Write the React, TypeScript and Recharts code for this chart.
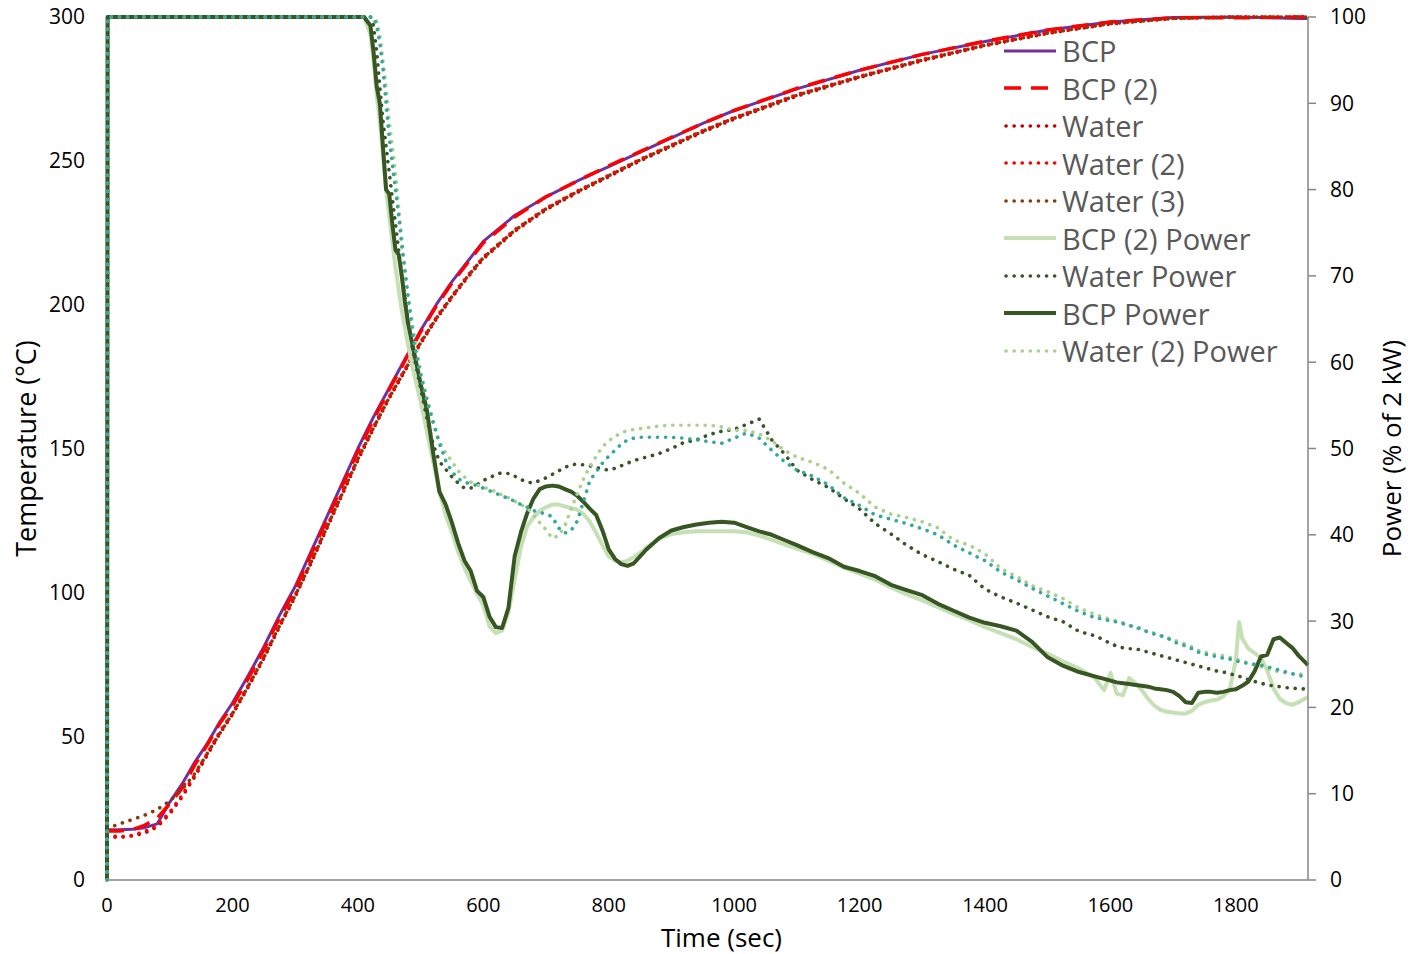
import { LineChart, Line, XAxis, YAxis } from "recharts";

// temperature runs (°C), sampled on a shared time base (s)
const tempTime = [
  0, 20, 40, 60, 80, 100, 120, 140, 160, 180,
  200, 225, 250, 275, 300, 325, 350, 375, 400, 425,
  450, 475, 500, 525, 550, 575, 600, 650, 700, 750,
  800, 850, 900, 950, 1000, 1100, 1200, 1300, 1400, 1500,
  1600, 1700, 1800, 1900, 1915,
];
const bcpTemp = [
  17.5, 17.5, 17.6, 18.2, 19.5, 27, 33.5, 41, 47.5, 55,
  61.5, 71, 81, 92, 102, 114, 126, 138, 150, 161,
  171, 181, 191, 200, 208, 215, 222, 231, 237.5, 243,
  248, 253, 258, 263, 267.5, 275, 281.5, 287, 291.5, 295.5,
  298.3, 299.8, 300, 299.5, 299.5,
];
const bcp2Temp = [
  17, 17, 17.5, 19, 21.5, 26.5, 32, 40, 47, 54.5,
  60.5, 70, 80, 91, 101, 113, 125, 137, 149, 160,
  170.5, 180.5, 190.5, 199.5, 207.5, 214.5, 221.5, 230.5, 237.5, 243,
  248.3, 253.2, 258.2, 263, 267.5, 275.2, 281.5, 287, 291.6, 295.5,
  298.3, 299.7, 299.7, 300, 300,
];
const waterTemp = [
  15.5, 15, 15.3, 16.3, 18.5, 23, 29, 36, 43.5, 51,
  57.5, 67, 77, 88, 98.5, 110, 122, 134, 146, 157,
  167.5, 177, 186.5, 195, 202.5, 209.5, 216, 225.5, 233, 239,
  244.5, 250, 255, 260, 264.5, 272.5, 279, 284.8, 290, 294.3,
  297.6, 299.5, 300, 300, 300,
];
const water2Temp = [
  15, 14.8, 15.5, 16.8, 19, 23.5, 29.5, 36.5, 44, 51.5,
  58, 67.5, 77.5, 88.5, 99, 110.5, 122.5, 134.5, 146.5, 157.5,
  168, 177.5, 187, 195.5, 203, 210, 216.5, 226, 233.5, 239.5,
  245, 250.5, 255.5, 260.5, 265, 273, 279.4, 285.2, 290.3, 294.5,
  297.8, 299.6, 300, 300, 300,
];
const water3Temp = [
  18, 19.5, 21, 22.5, 24.5, 27.5, 31.5, 37, 44, 51,
  57.8, 67.3, 77.3, 88.3, 98.8, 110.3, 122.3, 134.3, 146.3, 157.2,
  167.7, 177.2, 186.7, 195.2, 202.8, 209.8, 216.3, 225.8, 233.3, 239.3,
  244.8, 250.3, 255.3, 260.3, 264.8, 272.8, 279.2, 285, 290.2, 294.4,
  297.7, 299.5, 300, 300, 300,
];

// heater power (% of 2 kW), shared time base (s)
const powerTime = [
  0, 1, 400, 410, 420, 425, 430, 435, 440, 445,
  450, 455, 460, 465, 470, 475, 480, 490, 500, 510,
  520, 530, 540, 550, 560, 570, 580, 590, 600, 610,
  620, 630, 640, 650, 660, 670, 680, 690, 700, 710,
  720, 730, 740, 750, 760, 770, 780, 790, 800, 810,
  820, 830, 840, 850, 860, 880, 900, 920, 940, 960,
  980, 1000, 1020, 1040, 1060, 1080, 1100, 1125, 1150, 1175,
  1200, 1225, 1250, 1275, 1300, 1325, 1350, 1375, 1400, 1425,
  1450, 1475, 1500, 1525, 1550, 1575, 1590, 1600, 1610, 1620,
  1630, 1640, 1650, 1660, 1670, 1680, 1690, 1700, 1710, 1720,
  1730, 1740, 1750, 1760, 1770, 1780, 1790, 1800, 1805, 1810,
  1820, 1830, 1840, 1850, 1860, 1870, 1880, 1890, 1900, 1915,
];
const bcpPower = [
  0, 100, 100, 100, 99, 96, 92, 90, 85, 80,
  79.5, 76, 73, 72.5, 70, 67, 64.5, 61, 57.5, 54.5,
  49.5, 45, 43.5, 41.4, 39, 37, 35.8, 33.5, 32.8, 30.5,
  29.3, 29.2, 31.5, 37.5, 40.3, 42.5, 44.2, 45.3, 45.6, 45.7,
  45.6, 45.3, 45, 44.5, 43.8, 43, 42.3, 40.5, 38.3, 37.2,
  36.6, 36.4, 36.7, 37.5, 38.3, 39.6, 40.5, 40.9, 41.2, 41.4,
  41.5, 41.4, 40.9, 40.4, 40, 39.4, 38.8, 38, 37.3, 36.3,
  35.8, 35.2, 34.2, 33.6, 33, 32, 31.2, 30.4, 29.8, 29.4,
  28.9, 27.6, 25.8, 24.8, 24.1, 23.6, 23.3, 23.1, 22.9, 22.8,
  22.7, 22.6, 22.5, 22.4, 22.2, 22.1, 22, 21.8, 21.3, 20.6,
  20.5, 21.7, 21.8, 21.8, 21.7, 21.8, 22, 22.1, 22.3, 22.5,
  23, 24.2, 25.9, 26.1, 27.9, 28.1, 27.5, 26.9, 26, 24.9,
];
const bcp2Power = [
  0, 100, 100, 100, 98, 95, 91, 88, 84, 80,
  77, 74, 71, 68.5, 66, 64, 62, 58.5, 55.5, 52,
  48.5, 45, 42.3, 40.3, 38, 36.2, 34.6, 33.2, 31.8, 29.4,
  28.6, 28.9, 31, 34.8, 38.6, 41, 42, 42.8, 43.2, 43.5,
  43.5, 43.3, 43.1, 42.9, 42.4, 41.5, 40.2, 38.8, 37.5, 37,
  36.8, 37, 37.4, 37.9, 38.5, 39.5, 40.1, 40.3, 40.4, 40.4,
  40.4, 40.4, 40.3, 39.9, 39.4, 38.9, 38.4, 37.8, 37, 36.2,
  35.5, 34.8, 33.9, 33.1, 32.4, 31.6, 30.8, 30.1, 29.3, 28.6,
  27.9, 27, 26.2, 25.3, 24.5, 23.4, 22, 24, 21.6, 21.4,
  23.4, 22.8, 22, 21, 20.2, 19.7, 19.5, 19.4, 19.3, 19.3,
  19.6, 20.3, 20.6, 20.8, 20.9, 21.3, 22, 25.5, 29.9, 28,
  26.8, 26.3, 25.7, 24.3, 22.2, 21, 20.5, 20.3, 20.6, 21.2,
];
const waterPower = [
  0, 100, 100, 100, 100, 99, 96, 92, 88, 85,
  82, 79, 76, 73, 70, 67.5, 65, 60.5, 57, 53.5,
  50.5, 48.5, 47.6, 46.7, 46, 45.4, 45.4, 45.8, 46.3, 46.6,
  47, 47.2, 47.1, 46.8, 46.4, 46.1, 46, 46.3, 46.6, 47,
  47.4, 47.8, 48.1, 48.2, 48.1, 48, 47.8, 47.6, 47.5, 47.7,
  48, 48.3, 48.6, 48.8, 49, 49.4, 50, 50.7, 51, 51.6,
  52, 52.2, 52.8, 53.4, 51, 49.4, 47.5, 46.4, 45.5, 44.2,
  43, 41.3, 40.1, 38.8, 37.7, 36.9, 36, 35.3, 33.7, 32.8,
  32.1, 31.3, 30.5, 29.9, 28.8, 28.3, 27.8, 27.4, 27.1, 26.9,
  26.8, 26.8, 26.6, 26.4, 26.2, 26, 25.8, 25.6, 25.4, 25.2,
  25, 24.8, 24.6, 24.4, 24.2, 24.1, 23.9, 23.7, 23.6, 23.5,
  23.2, 23, 22.8, 22.6, 22.5, 22.4, 22.3, 22.2, 22.2, 22.1,
];
const water2Power = [
  0, 100, 100, 100, 100, 100, 99.5, 98, 95, 92,
  88, 85, 82, 78, 74.5, 71, 68, 63, 59, 56,
  53.3, 50.8, 49.5, 48.5, 47.4, 46.7, 46.1, 45.8, 45.5, 45.3,
  45, 44.6, 44.3, 43.9, 43.5, 43.1, 42.3, 41.4, 40.6, 39.6,
  39.9, 41, 43, 44.8, 46.5, 47.9, 49.1, 50.2, 50.9, 51.4,
  51.8, 52.1, 52.2, 52.3, 52.4, 52.6, 52.7, 52.7, 52.7, 52.7,
  52.5, 52.1, 52.1, 51.7, 50.9, 49.8, 49, 48.4, 47.6, 46,
  44.8, 43.2, 42.4, 42, 41.5, 40.8, 39.4, 38.8, 37.8, 36.1,
  35.2, 34.1, 33.4, 32.6, 31.5, 30.8, 30.4, 30.2, 30, 29.8,
  29.5, 29.2, 29, 28.8, 28.6, 28.3, 28.1, 27.8, 27.6, 27.3,
  27, 26.6, 26.4, 26.2, 26.1, 26, 25.8, 25.6, 25.5, 25.4,
  25.1, 24.9, 24.7, 24.5, 24.3, 24.1, 24, 23.9, 23.9, 23.8,
];
// teal dotted trace, no legend entry in the original
const water3Power = [
  0, 100, 100, 100, 100, 100, 99, 97, 94, 90,
  86, 83, 80, 77, 73.5, 70.5, 67.5, 62, 58.5, 55.5,
  53, 50.6, 48.6, 47.3, 46.5, 46.1, 45.9, 45.7, 45.4, 45.1,
  44.8, 44.5, 44.2, 43.9, 43.5, 43.2, 42.8, 42.6, 42.4, 42.1,
  40.8, 40.2, 40.5, 41.6, 43.9, 46.3, 47.3, 48.3, 49.1, 49.8,
  50.5, 51, 51.2, 51.3, 51.3, 51.3, 51.3, 51.2, 51, 50.8,
  50.6, 51.2, 51.8, 51.2, 49.8, 48.5, 47.5, 46.8, 45.8, 44.3,
  43.4, 42.3, 41.8, 41.3, 40.7, 40, 38.8, 37.9, 37, 35.7,
  34.8, 33.8, 32.9, 32, 31.1, 30.4, 30.2, 30, 29.9, 29.7,
  29.5, 29.3, 29.1, 28.7, 28.5, 28.3, 28.1, 27.6, 27.4, 27.1,
  26.8, 26.4, 26.2, 26, 25.9, 25.7, 25.6, 25.4, 25.3, 25.2,
  25.1, 25, 24.9, 24.7, 24.5, 24.3, 24.1, 23.9, 23.7, 23.5,
];

const timeTicks = [0, 200, 400, 600, 800, 1000, 1200, 1400, 1600, 1800];
const tempTicks = [0, 50, 100, 150, 200, 250, 300];
const powerTicks = [0, 10, 20, 30, 40, 50, 60, 70, 80, 90, 100];

const DOT = "0.1 8";
const AXIS = "#868686";

const rows = (times: number[], vals: number[]) => times.map((t, i) => ({ t, v: vals[i] }));

const series = [
  { name: "BCP", axis: "temp", data: rows(tempTime, bcpTemp), color: "#7030A0", width: 3 },
  { name: "BCP (2)", axis: "temp", data: rows(tempTime, bcp2Temp), color: "#FF0000", width: 3.5, dash: "17 10" },
  { name: "Water", axis: "temp", data: rows(tempTime, waterTemp), color: "#C00000", width: 3.6, dash: DOT, dotted: true },
  { name: "Water (2)", axis: "temp", data: rows(tempTime, water2Temp), color: "#FF0000", width: 3.6, dash: DOT, dotted: true },
  { name: "Water (3)", axis: "temp", data: rows(tempTime, water3Temp), color: "#843C0C", width: 3.6, dash: DOT, dotted: true },
  { name: "BCP (2) Power", axis: "power", data: rows(powerTime, bcp2Power), color: "#C5E0B4", width: 4 },
  { name: "Water Power", axis: "power", data: rows(powerTime, waterPower), color: "#375623", width: 3.6, dash: DOT, dotted: true },
  { name: "BCP Power", axis: "power", data: rows(powerTime, bcpPower), color: "#375623", width: 4 },
  { name: "Water (2) Power", axis: "power", data: rows(powerTime, water2Power), color: "#A9D18E", width: 3.6, dash: DOT, dotted: true },
  { name: "Water (3) Power", axis: "power", data: rows(powerTime, water3Power), color: "#36A89A", width: 3.6, dash: DOT, dotted: true, hidden: true },
];

function LegendBox() {
  return (
    <div style={{ position: "absolute", left: 1000, top: 32 }}>
      {series.filter((s) => !s.hidden).map((s) => (
        <div key={s.name} style={{ display: "flex", alignItems: "center", height: 37.5 }}>
          <svg width={60} height={10}>
            <line
              x1={s.dotted ? 6 : 4}
              x2={56}
              y1={5}
              y2={5}
              stroke={s.color}
              strokeWidth={s.width}
              strokeDasharray={s.dash}
              strokeLinecap={s.dotted ? "round" : "butt"}
            />
          </svg>
          <span style={{ fontSize: 29, color: "#595959", marginLeft: 2, lineHeight: 1 }}>{s.name}</span>
        </div>
      ))}
    </div>
  );
}

export default function App() {
  return (
    <div
      style={{
        position: "absolute",
        left: 0,
        top: 0,
        width: 1408,
        height: 954,
        background: "#fff",
        fontFamily: "'Open Sans', sans-serif",
      }}
    >
      <LineChart width={1408} height={954} margin={{ top: 17, right: 0, bottom: 0, left: 0 }}>
        <XAxis
          dataKey="t"
          type="number"
          domain={[0, 1915]}
          ticks={timeTicks}
          height={74}
          tickLine={false}
          tickSize={0}
          tickMargin={18}
          axisLine={{ stroke: AXIS, strokeWidth: 1.5 }}
          tick={{ fill: "#000", fontSize: 20 }}
          label={{ value: "Time (sec)", position: "insideBottom", offset: 7, dx: 14, fill: "#000", fontSize: 26 }}
        />
        <YAxis
          yAxisId="temp"
          type="number"
          domain={[0, 300]}
          ticks={tempTicks}
          width={107}
          tickLine={false}
          axisLine={false}
          tickSize={0}
          tickMargin={22}
          tick={{ fill: "#000", fontSize: 21 }}
          label={{
            value: "Temperature (°C)",
            angle: -90,
            position: "insideLeft",
            offset: 26,
            fill: "#000",
            fontSize: 27,
            style: { textAnchor: "middle" },
          }}
        />
        <YAxis
          yAxisId="power"
          orientation="right"
          type="number"
          domain={[0, 100]}
          ticks={powerTicks}
          width={100}
          tickLine={{ stroke: AXIS, strokeWidth: 1.5 }}
          tickSize={8}
          tickMargin={14}
          axisLine={{ stroke: AXIS, strokeWidth: 1.5 }}
          tick={{ fill: "#000", fontSize: 21 }}
          label={{
            value: "Power (% of 2 kW)",
            angle: -90,
            position: "insideRight",
            offset: 16,
            fill: "#000",
            fontSize: 26,
            style: { textAnchor: "middle" },
          }}
        />
        {series.map((s) => (
          <Line
            key={s.name}
            name={s.name}
            yAxisId={s.axis}
            data={s.data}
            dataKey="v"
            type="linear"
            stroke={s.color}
            strokeWidth={s.width}
            strokeDasharray={s.dash}
            strokeLinecap={s.dotted ? "round" : "butt"}
            strokeLinejoin="round"
            dot={false}
            activeDot={false}
            isAnimationActive={false}
          />
        ))}
      </LineChart>
      <LegendBox />
    </div>
  );
}
